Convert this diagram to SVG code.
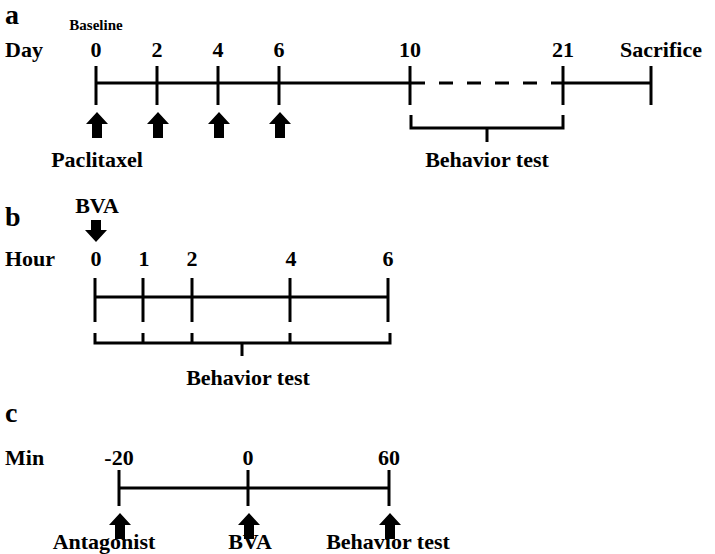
<svg xmlns="http://www.w3.org/2000/svg" width="715" height="554" viewBox="0 0 715 554">
<style>
text{font-family:"Liberation Serif",serif;font-weight:bold;font-size:22px;fill:#000}
.m{text-anchor:middle}
.s{font-size:15px}
.p{font-size:28px}
line,path.l{stroke:#000;stroke-width:3;fill:none}
</style>
<defs>
<path id="up" d="M0,0 L-11,12 L-5,12 L-5,26 L5,26 L5,12 L11,12 Z" fill="#000"/>
</defs>
<rect width="715" height="554" fill="#fff"/>
<g id="panel-a">
<text x="5" y="24" class="p">a</text>
<text x="96" y="30" class="m s">Baseline</text>
<text x="5" y="57">Day</text>
<g class="m"><text x="96" y="57">0</text><text x="157" y="57">2</text><text x="218" y="57">4</text><text x="279" y="57">6</text><text x="410" y="57">10</text><text x="563" y="57">21</text><text x="661" y="57">Sacrifice</text></g>
<line x1="96" y1="83" x2="410" y2="83"/>
<line x1="410" y1="83" x2="563" y2="83" stroke-dasharray="14,14" stroke-dashoffset="-1"/>
<line x1="563" y1="83" x2="651" y2="83"/>
<line x1="96" y1="66" x2="96" y2="105"/><line x1="157" y1="66" x2="157" y2="105"/><line x1="218" y1="66" x2="218" y2="105"/><line x1="279" y1="66" x2="279" y2="105"/><line x1="410" y1="66" x2="410" y2="105"/><line x1="563" y1="66" x2="563" y2="105"/><line x1="651" y1="66" x2="651" y2="105"/>
<use href="#up" x="97" y="112"/><use href="#up" x="158" y="112"/><use href="#up" x="219" y="112"/><use href="#up" x="280" y="112"/>
<text x="97" y="167" class="m">Paclitaxel</text>
<path class="l" d="M411,115 V128 H563 V115 M487,128 V142"/>
<text x="487" y="167" class="m">Behavior test</text>
</g>
<g id="panel-b">
<text x="5" y="226" class="p">b</text>
<text x="97" y="213" class="m">BVA</text>
<path d="M0,0 L-11,-12 L-5,-12 L-5,-22 L5,-22 L5,-12 L11,-12 Z" transform="translate(96,242)" fill="#000"/>
<text x="5" y="266">Hour</text>
<g class="m"><text x="96" y="266">0</text><text x="144" y="266">1</text><text x="192" y="266">2</text><text x="291" y="266">4</text><text x="388" y="266">6</text></g>
<line x1="95" y1="297" x2="388" y2="297"/>
<line x1="95" y1="278" x2="95" y2="322"/><line x1="143" y1="278" x2="143" y2="322"/><line x1="192" y1="278" x2="192" y2="322"/><line x1="290" y1="278" x2="290" y2="322"/><line x1="388" y1="278" x2="388" y2="322"/>
<path class="l" d="M95,333 V343 H390 V333 M143,333 V343 M192,333 V343 M290,333 V343 M242,343 V356"/>
<text x="248" y="385" class="m">Behavior test</text>
</g>
<g id="panel-c">
<text x="5" y="422" class="p">c</text>
<text x="5" y="465">Min</text>
<g class="m"><text x="119" y="465">-20</text><text x="248" y="465">0</text><text x="389" y="465">60</text></g>
<line x1="119" y1="488" x2="389" y2="488"/>
<line x1="119" y1="470" x2="119" y2="506"/><line x1="248" y1="470" x2="248" y2="506"/><line x1="389" y1="470" x2="389" y2="506"/>
<use href="#up" x="120" y="513"/><use href="#up" x="249" y="513"/><use href="#up" x="390" y="513"/>
<text x="104" y="549" class="m">Antagonist</text>
<text x="250" y="549" class="m">BVA</text>
<text x="388" y="549" class="m">Behavior test</text>
</g>
</svg>
